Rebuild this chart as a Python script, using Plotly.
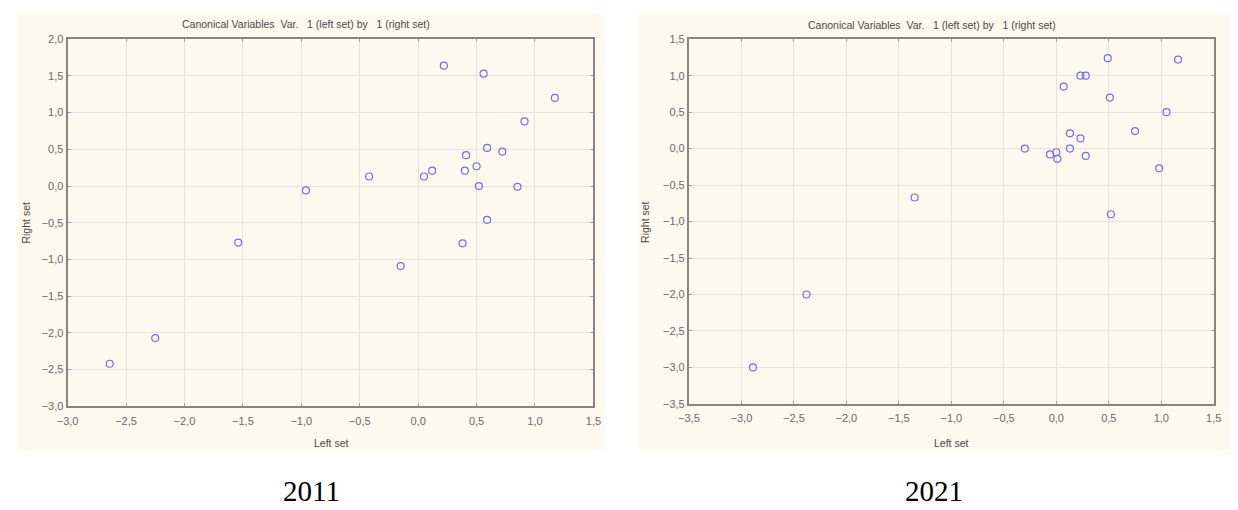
import plotly.graph_objects as go

# ---- data ----
x_2011 = [0.22, 0.56, 1.17, 0.91, 0.59, 0.72, 0.41, 0.50, 0.12, 0.05, 0.40,
          -0.42, -0.96, 0.52, 0.85, 0.59, -1.54, 0.38, -0.15, -2.25, -2.64]
y_2011 = [1.64, 1.53, 1.20, 0.88, 0.52, 0.47, 0.42, 0.27, 0.21, 0.13, 0.21,
          0.13, -0.06, 0.00, -0.01, -0.46, -0.77, -0.78, -1.09, -2.07, -2.42]

x_2021 = [0.49, 1.16, 0.23, 0.28, 0.07, 0.51, 1.05, 0.75, 0.13, 0.23, -0.30,
          0.13, -0.06, 0.00, 0.01, 0.28, 0.98, 0.52, -1.35, -2.38, -2.89]
y_2021 = [1.24, 1.22, 1.00, 1.00, 0.85, 0.70, 0.50, 0.24, 0.21, 0.14, 0.00,
          0.00, -0.08, -0.05, -0.14, -0.10, -0.27, -0.90, -0.67, -2.00, -3.00]

panel_labels = ["2011", "2021"]
chart_title = "Canonical Variables  Var.   1 (left set) by   1 (right set)"
x_title = "Left set"
y_title = "Right set"

W, H = 1238, 510
def px(x): return x / W
def py(y): return (H - y) / H

marker = dict(symbol="circle-open", size=7, color="#7272dc", line=dict(width=1.2, color="#7272dc"))

fig = go.Figure()
fig.add_trace(go.Scatter(x=x_2011, y=y_2011, mode="markers", marker=marker,
                         xaxis="x", yaxis="y", showlegend=False))
fig.add_trace(go.Scatter(x=x_2021, y=y_2021, mode="markers", marker=marker,
                         xaxis="x2", yaxis="y2", showlegend=False))

tickfont = dict(family="Liberation Sans, Arial, sans-serif", size=11, color="#6a6a6a")
axis_common = dict(
    showgrid=True, gridcolor="#e3e3e3", gridwidth=1,
    showline=True, linecolor="#858585", linewidth=2, mirror="ticks",
    ticks="inside", ticklen=3, tickcolor="#a0a0a0",
    zeroline=False, dtick=0.5, tickformat=".1f", tickfont=tickfont,
    fixedrange=True,
)

fig.update_layout(
    width=W, height=H,
    margin=dict(l=0, r=0, t=0, b=0),
    paper_bgcolor="white", plot_bgcolor="white",
    separators=", ",
    xaxis=dict(domain=[px(57.5), px(591.5)], range=[-3.0, 1.5], tick0=-3.0, anchor="y",
               ticklabelstandoff=3, **axis_common),
    yaxis=dict(domain=[py(410), py(34)], range=[-3.0, 2.0], tick0=-3.0, anchor="x", **axis_common),
    xaxis2=dict(domain=[px(688.5), px(1221.5)], range=[-3.5, 1.5], tick0=-3.5, anchor="y2",
                ticklabelstandoff=3, **axis_common),
    yaxis2=dict(domain=[py(407.5), py(34)], range=[-3.5, 1.5], tick0=-3.5, anchor="x2", **axis_common),
    shapes=[
        dict(type="rect", xref="paper", yref="paper", x0=px(7), x1=px(603), y0=py(454), y1=py(8),
             fillcolor="#fdf9ef", line=dict(width=0), layer="below"),
        dict(type="rect", xref="paper", yref="paper", x0=px(638), x1=px(1238), y0=py(454), y1=py(8),
             fillcolor="#fdf9ef", line=dict(width=0), layer="below"),
    ],
)

small = dict(family="Liberation Sans, Arial, sans-serif", size=10.5, color="#4a4a4a")
ann = []
for cx, cy in [(300, 18), (935, 19)]:
    ann.append(dict(x=px(cx), y=py(cy), xref="paper", yref="paper", text=chart_title,
                    showarrow=False, font=small, xanchor="center", yanchor="middle"))
for cx in [325, 955]:
    ann.append(dict(x=px(cx), y=py(448), xref="paper", yref="paper", text=x_title,
                    showarrow=False, font=small, xanchor="center", yanchor="middle"))
for cx, cy in [(15, 222), (644, 221)]:
    ann.append(dict(x=px(cx), y=py(cy), xref="paper", yref="paper", text=y_title, textangle=-90,
                    showarrow=False, font=small, xanchor="center", yanchor="middle"))
for lbl, cx in zip(panel_labels, [305, 937]):
    ann.append(dict(x=px(cx), y=py(497), xref="paper", yref="paper", text=lbl,
                    showarrow=False, font=dict(family="Liberation Serif, Times New Roman, serif", size=29, color="black"),
                    xanchor="center", yanchor="middle"))
fig.update_layout(annotations=ann)

fig.write_html("out.html")
